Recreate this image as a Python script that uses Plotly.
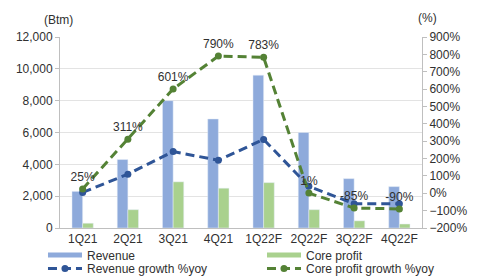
import plotly.graph_objects as go

categories = ["1Q21", "2Q21", "3Q21", "4Q21", "1Q22F", "2Q22F", "3Q22F", "4Q22F"]
revenue = [2300, 4300, 8000, 6850, 9600, 6000, 3100, 2600]
core_profit = [300, 1150, 2900, 2500, 2850, 1150, 450, 250]
revenue_growth = [5, 110, 240, 190, 310, 40, -60, -60]
core_profit_growth = [25, 311, 601, 790, 783, 1, -85, -90]
core_profit_labels = ["25%", "311%", "601%", "790%", "783%", "1%", "-85%", "-90%"]

C_REV = "#8eaadb"
C_CP = "#a9d18e"
C_REVG = "#2f5597"
C_CPG = "#548235"
FONT = "Liberation Sans, Arial, sans-serif"
TXT = "#303030"
DASH = "9px,5px"

fig = go.Figure()
fig.add_trace(go.Bar(x=categories, y=revenue, name="Revenue", marker_color=C_REV,
                     showlegend=False, yaxis="y"))
fig.add_trace(go.Bar(x=categories, y=core_profit, name="Core profit", marker_color=C_CP,
                     showlegend=False, yaxis="y"))
# legend-only swatches (wide rectangles as in the original)
fig.add_trace(go.Scatter(x=[None], y=[None], mode="lines", name="Revenue",
                         line=dict(color=C_REV, width=5), legend="legend"))
fig.add_trace(go.Scatter(x=[None], y=[None], mode="lines", name="Core profit",
                         line=dict(color=C_CP, width=5), legend="legend2"))
fig.add_trace(go.Scatter(x=categories, y=revenue_growth, name="Revenue growth %yoy",
                         mode="lines+markers", yaxis="y2", legend="legend3",
                         line=dict(color=C_REVG, width=3, dash=DASH),
                         marker=dict(size=7, color=C_REVG)))
fig.add_trace(go.Scatter(x=categories, y=core_profit_growth, name="Core profit growth %yoy",
                         mode="lines+markers+text", yaxis="y2", legend="legend4",
                         text=core_profit_labels, textposition="top center",
                         cliponaxis=False,
                         textfont=dict(size=12, color=TXT, family=FONT),
                         line=dict(color=C_CPG, width=3, dash=DASH),
                         marker=dict(size=7, color=C_CPG)))

leg_common = dict(orientation="v", yanchor="top", xanchor="left",
                  itemwidth=34, font=dict(size=12), tracegroupgap=0,
                  bgcolor="rgba(0,0,0,0)", borderwidth=0)
row1, row2 = -0.066, -0.136
col1, col2 = -0.047, 0.558

fig.update_layout(
    width=470, height=268,
    margin=dict(l=52, r=56, t=29, b=48, autoexpand=False),
    paper_bgcolor="white", plot_bgcolor="white",
    font=dict(family=FONT, size=12, color=TXT),
    barmode="group", bargap=0.53, bargroupgap=0,
    xaxis=dict(showline=True, linecolor="#bfbfbf", ticks="", tickfont=dict(size=12)),
    yaxis=dict(range=[0, 12000], dtick=2000, tickformat=",", showgrid=True,
               gridcolor="#e3e3e3", showline=True, linecolor="#bfbfbf",
               ticks="outside", ticklen=4, tickcolor="#bfbfbf", zeroline=False),
    yaxis2=dict(range=[-200, 900], dtick=100, ticksuffix="%", overlaying="y",
                side="right", showgrid=False, showline=True, linecolor="#bfbfbf",
                ticks="outside", ticklen=4, tickcolor="#bfbfbf", zeroline=False),
    legend=dict(x=col1, y=row1, **leg_common),
    legend2=dict(x=col2, y=row1, **leg_common),
    legend3=dict(x=col1, y=row2, **leg_common),
    legend4=dict(x=col2, y=row2, **leg_common),
    annotations=[
        dict(text="(Btm)", xref="paper", yref="paper", x=-0.005, y=1.089,
             xanchor="center", yanchor="middle", showarrow=False, font=dict(size=12)),
        dict(text="(%)", xref="paper", yref="paper", x=1.014, y=1.10,
             xanchor="center", yanchor="middle", showarrow=False, font=dict(size=12)),
    ],
)

fig.write_html("out.html")
